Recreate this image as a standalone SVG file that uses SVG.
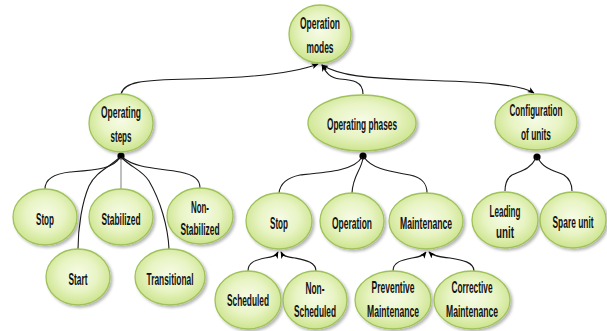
<svg xmlns="http://www.w3.org/2000/svg" width="607" height="331" viewBox="0 0 607 331">
  <defs>
    <radialGradient id="nodeFill" cx="50%" cy="45%" r="55%">
      <stop offset="0" stop-color="#f6fbe6"/>
      <stop offset="0.55" stop-color="#e8f4c4"/>
      <stop offset="1" stop-color="#cde48e"/>
    </radialGradient>
    <filter id="shadow" x="-20%" y="-20%" width="150%" height="150%">
      <feGaussianBlur in="SourceAlpha" stdDeviation="1.6"/>
      <feOffset dx="1.5" dy="2" result="b"/>
      <feComponentTransfer><feFuncA type="linear" slope="0.3"/></feComponentTransfer>
      <feMerge><feMergeNode/><feMergeNode in="SourceGraphic"/></feMerge>
    </filter>
    <marker id="arrow" viewBox="0 0 10 10" refX="9" refY="5" markerWidth="7" markerHeight="7" orient="auto-start-reverse" markerUnits="userSpaceOnUse">
      <path d="M0,1 L10,5 L0,9 L2.5,5 Z" fill="#000"/>
    </marker>
  </defs>
  <style>
    .node ellipse { fill: url(#nodeFill); stroke: #9fc25a; stroke-width: 1.3; filter: url(#shadow); }
    .node text { font-family: "Liberation Sans Narrow", "Liberation Sans", Arial, sans-serif; font-weight: bold; font-size: 17px; fill: #111; text-anchor: middle; }
    .link { fill: none; stroke: #1a1a1a; stroke-width: 1.1; }
    .link.grey { stroke: #8a8a8a; }
    .arr { marker-end: url(#arrow); }
    .hub { fill: #000; }
  </style>

  <rect width="607" height="331" fill="#fff"/>

  <g id="connectors">
    <!-- top level: children lead up to the root -->
    <path class="link arr" d="M121,94 C124,82 140,80 190,79 C250,78 295,73 318,64"/>
    <path class="link arr" d="M363,94 C363,81 352,80 340,79 C330,78 326,73 322,65"/>
    <path class="link arr" d="M322,65 C340,76 365,78 420,80 C480,82 520,84 534,93" style="marker-start:url(#arrow)"/>

    <!-- Operating steps branch -->
    <circle class="hub" cx="121" cy="156" r="3.6"/>
    <path class="link" d="M120,157 C114,169 95,170 70,172 C52,174 45,180 45,189"/>
    <path class="link" d="M119,158 C108,168 96,172 89,186 C82,202 78,228 78,249"/>
    <path class="link grey" d="M121,158 L121,189"/>
    <path class="link" d="M122,158 C132,168 142,170 149,181 C160,200 168,226 169,249"/>
    <path class="link" d="M122,157 C136,169 160,168 180,172 C195,175 200,180 200,188"/>

    <!-- Operating phases branch -->
    <circle class="hub" cx="363" cy="156" r="3.6"/>
    <path class="link" d="M362,157 C355,170 330,172 300,175 C285,178 280,185 279,193"/>
    <path class="link" d="M363,158 C361,171 353,175 352,193"/>
    <path class="link" d="M364,157 C372,170 395,172 410,175 C424,178 427,185 427,193"/>

    <!-- Stop sub-branch -->
    <path class="link arr" d="M248,271 C248,262 256,260 265,258 C272,257 276,256 278,252"/>
    <path class="link arr" d="M316,271 C316,262 305,260 295,258 C287,257 283,256 281,252"/>

    <!-- Maintenance sub-branch -->
    <path class="link arr" d="M393,271 C393,262 402,260 412,258 C419,257 423,256 426,252"/>
    <path class="link arr" d="M474,271 C474,262 462,260 450,258 C440,257 433,256 429,252"/>

    <!-- Configuration of units branch -->
    <circle class="hub" cx="537" cy="157" r="3.6"/>
    <path class="link" d="M536,158 C530,170 520,171 512,175 C506,179 505,185 505,191"/>
    <path class="link" d="M538,158 C544,170 556,171 564,175 C570,179 572,185 572,191"/>
  </g>

  <g id="operation-modes" class="node">
    <ellipse cx="320" cy="34" rx="31" ry="29"/>
    <text x="320" y="29" textLength="40" lengthAdjust="spacingAndGlyphs">Operation</text>
    <text x="320" y="53" textLength="27" lengthAdjust="spacingAndGlyphs">modes</text>
  </g>

  <g id="operating-steps" class="node">
    <ellipse cx="121" cy="123" rx="32" ry="29"/>
    <text x="121" y="118" textLength="40" lengthAdjust="spacingAndGlyphs">Operating</text>
    <text x="121" y="142" textLength="21" lengthAdjust="spacingAndGlyphs">steps</text>
  </g>

  <g id="operating-phases" class="node">
    <ellipse cx="362" cy="123" rx="54" ry="28"/>
    <text x="362" y="130" textLength="70" lengthAdjust="spacingAndGlyphs">Operating phases</text>
  </g>

  <g id="configuration-of-units" class="node">
    <ellipse cx="536" cy="122" rx="41" ry="28"/>
    <text x="536" y="116" textLength="53" lengthAdjust="spacingAndGlyphs">Configuration</text>
    <text x="536" y="140" textLength="30" lengthAdjust="spacingAndGlyphs">of units</text>
  </g>

  <g id="steps-stop" class="node">
    <ellipse cx="45" cy="217" rx="32" ry="28"/>
    <text x="45" y="225" textLength="18" lengthAdjust="spacingAndGlyphs">Stop</text>
  </g>

  <g id="stabilized" class="node">
    <ellipse cx="121" cy="217" rx="32" ry="28"/>
    <text x="121" y="225" textLength="39" lengthAdjust="spacingAndGlyphs">Stabilized</text>
  </g>

  <g id="non-stabilized" class="node">
    <ellipse cx="200" cy="216" rx="33" ry="28"/>
    <text x="200" y="213" textLength="18" lengthAdjust="spacingAndGlyphs">Non-</text>
    <text x="200" y="235" textLength="39" lengthAdjust="spacingAndGlyphs">Stabilized</text>
  </g>

  <g id="start" class="node">
    <ellipse cx="78" cy="277" rx="32" ry="28"/>
    <text x="78" y="285" textLength="19" lengthAdjust="spacingAndGlyphs">Start</text>
  </g>

  <g id="transitional" class="node">
    <ellipse cx="170" cy="277" rx="35" ry="28"/>
    <text x="170" y="285" textLength="47" lengthAdjust="spacingAndGlyphs">Transitional</text>
  </g>

  <g id="phases-stop" class="node">
    <ellipse cx="279" cy="221" rx="33" ry="28"/>
    <text x="279" y="229" textLength="18" lengthAdjust="spacingAndGlyphs">Stop</text>
  </g>

  <g id="operation" class="node">
    <ellipse cx="352" cy="221" rx="32" ry="28"/>
    <text x="352" y="229" textLength="40" lengthAdjust="spacingAndGlyphs">Operation</text>
  </g>

  <g id="maintenance" class="node">
    <ellipse cx="426" cy="221" rx="37" ry="28"/>
    <text x="426" y="229" textLength="52" lengthAdjust="spacingAndGlyphs">Maintenance</text>
  </g>

  <g id="scheduled" class="node">
    <ellipse cx="248" cy="300" rx="33" ry="29"/>
    <text x="248" y="306" textLength="42" lengthAdjust="spacingAndGlyphs">Scheduled</text>
  </g>

  <g id="non-scheduled" class="node">
    <ellipse cx="315" cy="300" rx="32" ry="29"/>
    <text x="315" y="294" textLength="19" lengthAdjust="spacingAndGlyphs">Non-</text>
    <text x="315" y="317" textLength="42" lengthAdjust="spacingAndGlyphs">Scheduled</text>
  </g>

  <g id="preventive-maintenance" class="node">
    <ellipse cx="393" cy="300" rx="38" ry="29"/>
    <text x="393" y="293" textLength="43" lengthAdjust="spacingAndGlyphs">Preventive</text>
    <text x="393" y="317" textLength="52" lengthAdjust="spacingAndGlyphs">Maintenance</text>
  </g>

  <g id="corrective-maintenance" class="node">
    <ellipse cx="472" cy="300" rx="38" ry="29"/>
    <text x="472" y="293" textLength="41" lengthAdjust="spacingAndGlyphs">Corrective</text>
    <text x="472" y="317" textLength="52" lengthAdjust="spacingAndGlyphs">Maintenance</text>
  </g>

  <g id="leading-unit" class="node">
    <ellipse cx="505" cy="220" rx="33" ry="28"/>
    <text x="505" y="217" textLength="31" lengthAdjust="spacingAndGlyphs">Leading</text>
    <text x="505" y="238" textLength="18" lengthAdjust="spacingAndGlyphs">unit</text>
  </g>

  <g id="spare-unit" class="node">
    <ellipse cx="573" cy="220" rx="33" ry="28"/>
    <text x="573" y="228" textLength="41" lengthAdjust="spacingAndGlyphs">Spare unit</text>
  </g>
</svg>
